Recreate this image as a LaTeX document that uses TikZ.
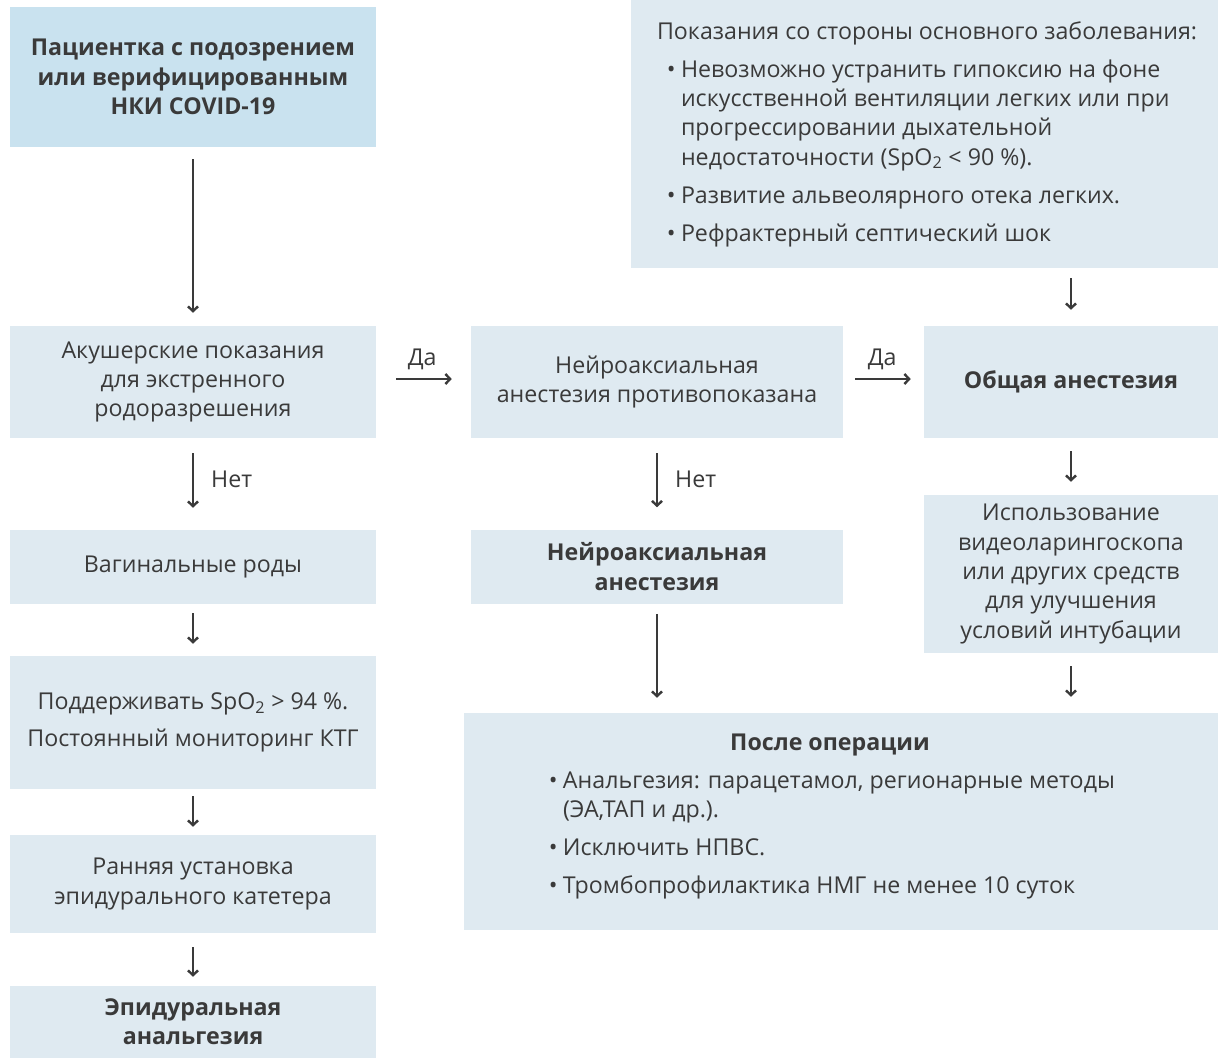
\documentclass[tikz,border=0pt]{standalone}
\usepackage{fontspec}
\setmainfont{Open Sans}
\usetikzlibrary{arrows.meta}
\definecolor{boxblue}{HTML}{C9E2EF}
\definecolor{boxgray}{HTML}{DFEAF1}
\definecolor{ink}{HTML}{3A3A3A}
\newcommand\bul[1]{\par\vspace{6.5pt}{\advance\leftskip by 18pt\noindent\llap{•\hspace{4pt}}#1\par}}
\begin{document}
\begin{tikzpicture}[x=0.75pt,y=-0.75pt,
  every node/.style={text=ink},
  box/.style={fill=boxgray, inner sep=0pt, align=center,
    font=\fontsize{17.4}{22}\selectfont},
  hdr/.style={box, font=\fontsize{17.4}{22}\selectfont\bfseries},
  arr/.style={draw=ink, line width=1.8pt, -{Straight Barb[length=3.5pt,width=7.5pt]}},
  lab/.style={inner sep=0pt, font=\fontsize{17.4}{22}\selectfont}]
\useasboundingbox (0,0) rectangle (1218,1058);

% nodes
\node[hdr, fill=boxblue, minimum width=274.5pt, minimum height=105pt] (start) at (193,77)
  {Пациентка с подозрением\\или верифицированным\\НКИ COVID-19};
\node[box, minimum width=274.5pt, minimum height=84pt] (obst) at (193,382)
  {Акушерские показания\\для экстренного\\родоразрешения};
\node[box, minimum width=279pt, minimum height=84pt] (contra) at (657,382)
  {Нейроаксиальная\\анестезия противопоказана};
\node[hdr, minimum width=220.5pt, minimum height=84pt] (general) at (1071,382)
  {Общая анестезия};
\node[box, minimum width=440.25pt, minimum height=201pt] (indic) at (924.5,134)
  {\begin{minipage}{420pt}\raggedright\leftskip=9.4pt
  Показания со стороны основного заболевания:
  \bul{Невозможно устранить гипоксию на фоне\\искусственной вентиляции легких или при\\прогрессировании дыхательной\\недостаточности (SpO\textsubscript{2} < 90 \%).}
  \bul{Развитие альвеолярного отека легких.}
  \bul{Рефрактерный септический шок}
  \end{minipage}};
\node[box, minimum width=274.5pt, minimum height=55.5pt] (vaginal) at (193,567)
  {Вагинальные роды};
\node[hdr, minimum width=279pt, minimum height=55.5pt] (neuro) at (657,566.5)
  {Нейроаксиальная\\анестезия};
\node[box, minimum width=220.5pt, minimum height=118.5pt] (video) at (1071,574)
  {Использование\\видеоларингоскопа\\или других средств\\для улучшения\\условий интубации};
\node[box, minimum width=274.5pt, minimum height=99.75pt] (spo2) at (193,722.5)
  {Поддерживать SpO\textsubscript{2} > 94 \%.\\[5.5pt]Постоянный мониторинг КТГ};
\node[box, minimum width=565.5pt, minimum height=162.75pt] (postop) at (841,821.5)
  {\begin{minipage}{480pt}\raggedright\leftskip=13.5pt
  \makebox[\linewidth][c]{\hspace*{-43.5pt}\bfseries После операции}
  \bul{Анальгезия: парацетамол, регионарные методы\\(ЭА,ТАП и др.).}
  \bul{Исключить НПВС.}
  \bul{Тромбопрофилактика НМГ не менее 10 суток}
  \par\vspace*{8pt}
  \end{minipage}};
\node[box, minimum width=274.5pt, minimum height=73.5pt] (epicath) at (193,884)
  {Ранняя установка\\эпидурального катетера};
\node[hdr, minimum width=274.5pt, minimum height=54pt] (epianalg) at (193,1022)
  {Эпидуральная\\анальгезия};

% connectors
\draw[arr, shorten <=9pt, shorten >=9.75pt] (start) -- (obst);
\draw[arr, shorten <=11.25pt, shorten >=16.5pt] (obst) -- node[lab, right=12.75pt, yshift=3.4pt] {Нет} (vaginal);
\draw[arr, shorten <=6.75pt, shorten >=9pt] (vaginal) -- (spo2);
\draw[arr, shorten <=5.25pt, shorten >=6pt] (spo2) -- (epicath);
\draw[arr, shorten <=10.5pt, shorten >=6.75pt] (epicath) -- (epianalg);
\draw[arr, shorten <=15pt, shorten >=14.25pt] ([yshift=2.25pt]obst.east) -- node[lab, above=6pt, xshift=-1pt] {Да} ([yshift=2.25pt]contra.west);
\draw[arr, shorten <=9pt, shorten >=9.75pt] ([yshift=2.25pt]contra.east) -- node[lab, above=6pt, xshift=-1pt] {Да} ([yshift=2.25pt]general.west);
\draw[arr, shorten <=11.25pt, shorten >=16.5pt] (contra) -- node[lab, right=12.75pt, yshift=3.4pt] {Нет} (neuro);
\draw[arr, shorten <=7.5pt, shorten >=11.25pt] (neuro) -- ([xshift=-138pt]postop.north);
\draw[arr, shorten <=7.5pt, shorten >=12pt] (indic.south -| general) -- (general);
\draw[arr, shorten <=9.75pt, shorten >=9.75pt] (general) -- (video);
\draw[arr, shorten <=9.75pt, shorten >=12pt] (video) -- ([xshift=172.5pt]postop.north);
\end{tikzpicture}
\end{document}
